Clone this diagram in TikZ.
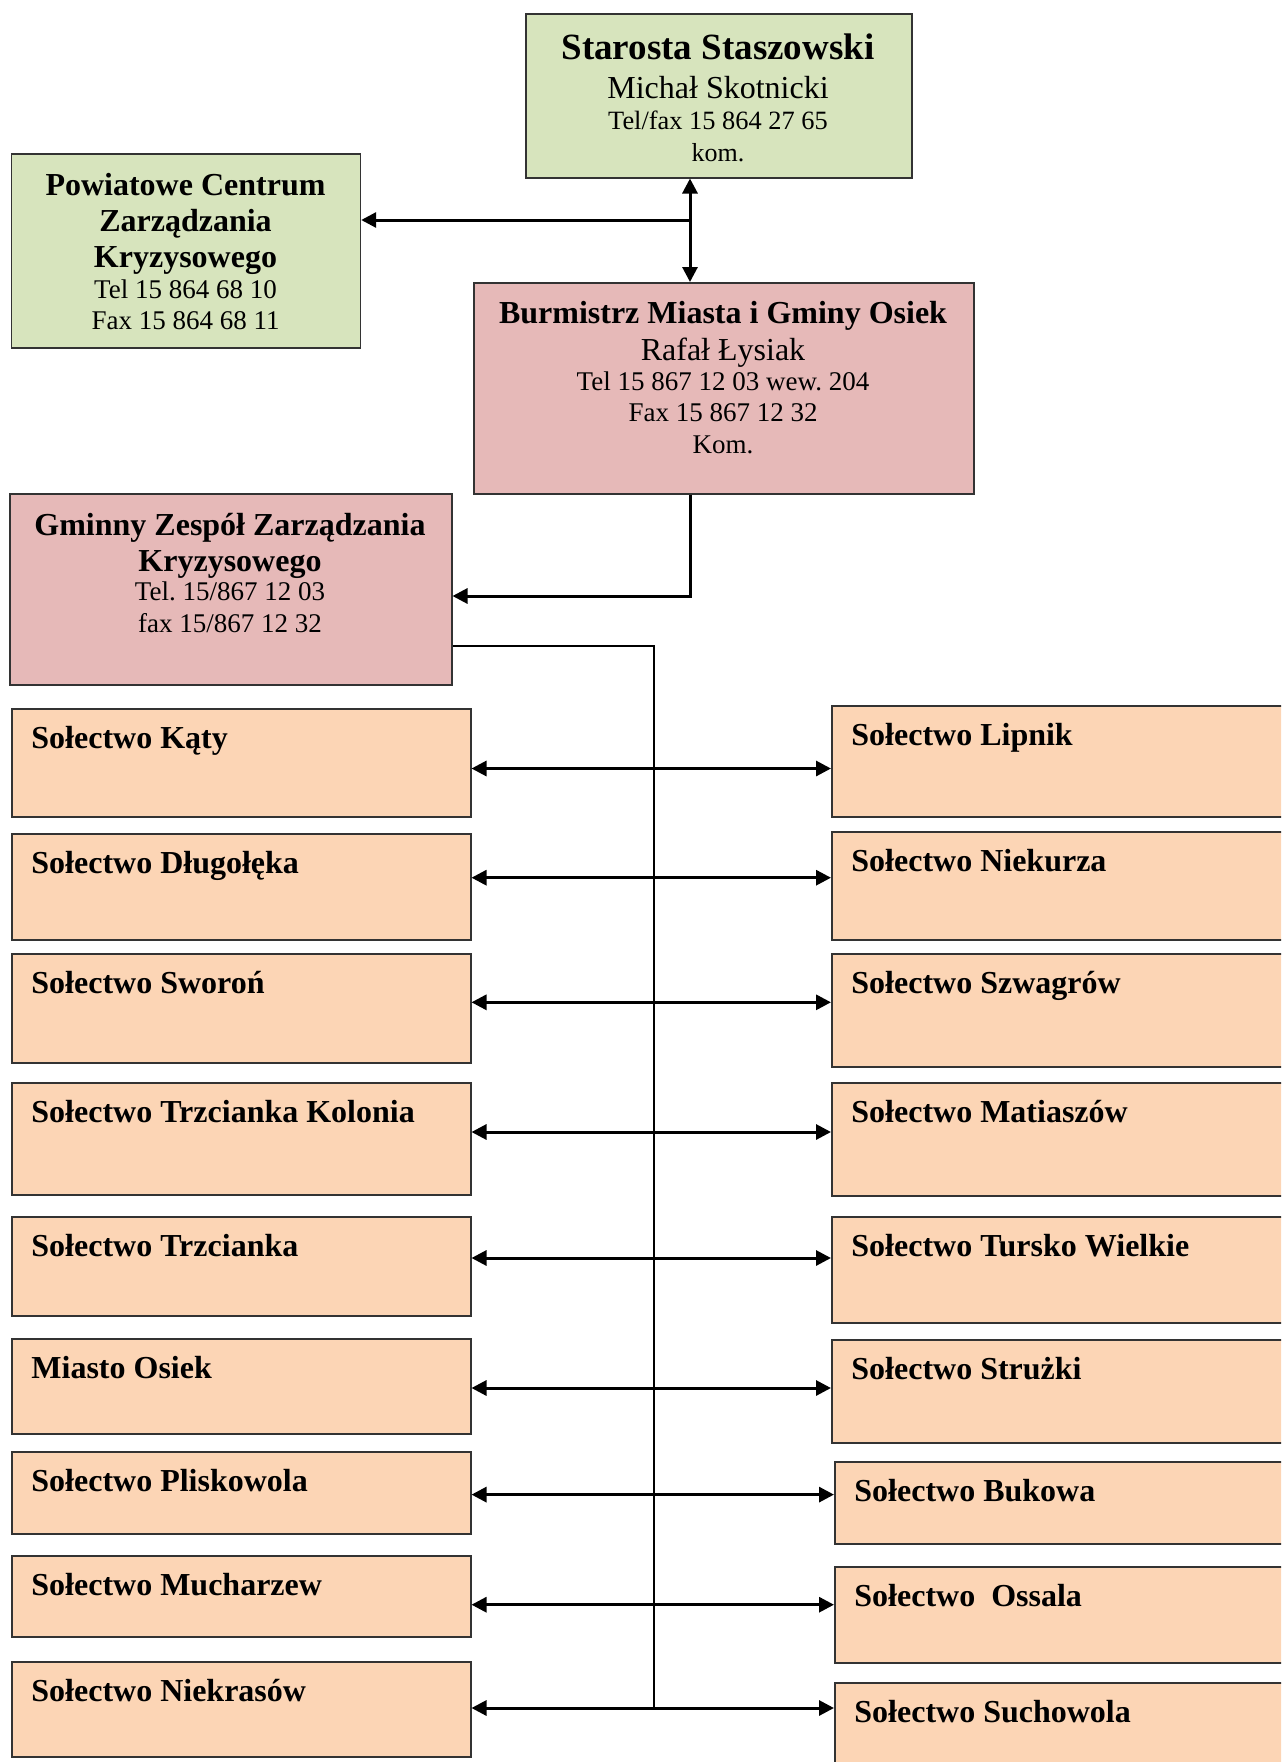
\documentclass[tikz,border=0pt]{standalone}
\usepackage{fontspec}
\setmainfont{Liberation Serif}
\usetikzlibrary{arrows.meta}

\definecolor{zielony}{HTML}{D7E4BD}
\definecolor{rozowy}{HTML}{E6B9B8}
\definecolor{brzoskwinia}{HTML}{FCD5B5}

\tikzset{
  box/.style={draw=black!80, line width=0.75pt, rectangle, inner sep=0pt, anchor=north west},
  txt/.style={anchor=base, inner sep=0pt},
  tytul/.style={txt, font=\fontsize{16}{19}\selectfont\bfseries},
  imie/.style={txt, font=\fontsize{16}{19}\selectfont},
  tel/.style={txt, font=\fontsize{13.5}{16}\selectfont},
  soltxt/.style={anchor=base west, inner sep=0pt, font=\fontsize{16}{19}\selectfont\bfseries},
  strzalka/.style={line width=1.5pt, >={Triangle[length=7.5pt,width=7.5pt]}},
  szyna/.style={line width=0.9pt},
}

\begin{document}
\frenchspacing
\begin{tikzpicture}[x=0.5pt, y=-0.5pt]
\clip (0,0) rectangle (1281,1762);

% starosta
\node[box, fill=zielony, minimum width=193pt, minimum height=82pt] (starosta) at (525,13) {};
\node[txt, font=\fontsize{18.5}{22}\selectfont\bfseries] (st1) at (718,59) {Starosta Staszowski};
\node[imie] (st2) at (718,98) {Michał Skotnicki};
\node[txt, font=\fontsize{13.2}{16}\selectfont] (st3) at (718,129) {Tel/fax 15 864 27 65};
\node[txt, font=\fontsize{13}{16}\selectfont] (st4) at (718,161) {kom.};

% powiatowe centrum
\node[box, fill=zielony, minimum width=174.5pt, minimum height=97pt] (pczk) at (10.7,153) {};
\node[tytul] (pc1) at (185.5,195) {Powiatowe Centrum};
\node[tytul] (pc2) at (185.5,231.7) {Zarządzania};
\node[tytul] (pc3) at (185.5,267.5) {Kryzysowego};
\node[tel] (pc4) at (185.5,298) {Tel 15 864 68 10};
\node[tel] (pc5) at (185.5,329) {Fax 15 864 68 11};

% burmistrz
\node[box, fill=rozowy, minimum width=250pt, minimum height=105.5pt] (burmistrz) at (473,282) {};
\node[tytul] (bm1) at (723,323) {Burmistrz Miasta i Gminy Osiek};
\node[imie] (bm2) at (723,360) {Rafał Łysiak};
\node[tel] (bm3) at (723,390) {Tel 15 867 12 03 wew. 204};
\node[tel] (bm4) at (723,421.5) {Fax 15 867 12 32};
\node[tel] (bm5) at (723,453) {Kom.};

% gminny zespol
\node[box, fill=rozowy, minimum width=221pt, minimum height=95.5pt] (gzzk) at (9,493) {};
\node[tytul] (gz1) at (230,535) {Gminny Zespół Zarządzania};
\node[tytul] (gz2) at (230,571) {Kryzysowego};
\node[tel] (gz3) at (230,600) {Tel. 15/867 12 03};
\node[tel] (gz4) at (230,632) {fax 15/867 12 32};

% solectwa
\foreach \i/\t/\h/\n in {1/708/108/Sołectwo Kąty, 2/833/106/Sołectwo Długołęka,
    3/953/109/Sołectwo Sworoń, 4/1082/112/Sołectwo Trzcianka Kolonia,
    5/1216/99/Sołectwo Trzcianka, 6/1338/95/Miasto Osiek,
    7/1451/82/Sołectwo Pliskowola, 8/1555/81/Sołectwo Mucharzew,
    9/1661/95/Sołectwo Niekrasów}{
  \node[box, fill=brzoskwinia, minimum width=229.5pt, minimum height=\h*0.5pt] (l\i) at (11,\t) {};
  \node[soltxt] (lt\i) at ([xshift=10pt,yshift=-20pt]l\i.north west) {\n};
}
\foreach \i/\x/\t/\h/\n in {1/831/705/111/Sołectwo Lipnik, 2/831/831/108/Sołectwo Niekurza,
    3/831/953/113/Sołectwo Szwagrów, 4/831/1082/113/Sołectwo Matiaszów,
    5/831/1216/106/Sołectwo Tursko Wielkie, 6/831/1339/103/Sołectwo Strużki,
    7/834/1461/82/Sołectwo Bukowa, 8/834/1566/96/Sołectwo\ \ Ossala,
    9/834/1682/120/Sołectwo Suchowola}{
  \node[box, fill=brzoskwinia, minimum width=235pt, minimum height=\h*0.5pt] (r\i) at (\x,\t) {};
  \node[soltxt] (rt\i) at ([xshift=10pt,yshift=-20pt]r\i.north west) {\n};
}

% polaczenia
\coordinate (wezel) at (690,220);
\coordinate (wejscie) at (451,596);
\coordinate (szynaG) at (654,645.7);
\draw[strzalka,<->] (starosta.south -| wezel) -- (burmistrz.north -| wezel);
\draw[strzalka,->] (wezel) -- (pczk.east |- wezel);
\draw[strzalka,->] (burmistrz.south -| wezel) |- (gzzk.east |- wejscie);

\foreach \i/\y in {1/768.5, 2/877.7, 3/1002.3, 4/1132, 5/1258, 6/1388, 7/1494.6, 8/1604.7, 9/1708}{
  \coordinate (w\i) at (654,\y);
  \draw[strzalka,<->] (l\i.east |- w\i) -- (r\i.west |- w\i);
}
\draw[szyna] (gzzk.east |- szynaG) -- (szynaG) -- (w9);
\end{tikzpicture}
\end{document}
